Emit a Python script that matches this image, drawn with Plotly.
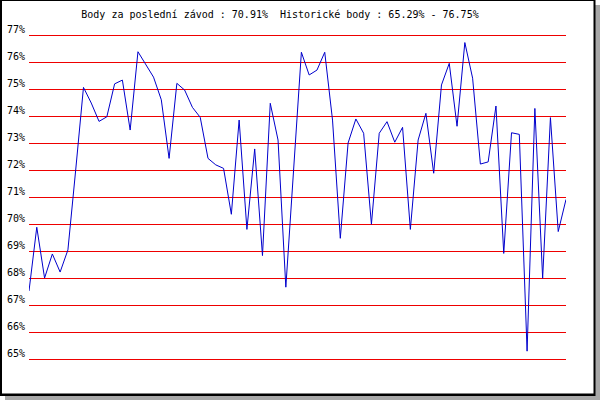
import plotly.graph_objects as go

# Data: race-by-race score in percent
scores = [
    67.52, 69.88, 68.00, 68.89, 68.22, 69.04, 72.00, 75.06, 74.48, 73.80,
    73.97, 75.19, 75.33, 73.48, 76.38, 75.89, 75.44, 74.60, 72.43, 75.21,
    74.96, 74.32, 73.95, 72.43, 72.19, 72.06, 70.36, 73.85, 69.80, 72.78,
    68.83, 74.47, 73.11, 67.66, 72.00, 76.36, 75.52, 75.70, 76.36, 73.85,
    69.47, 73.00, 73.89, 73.36, 69.99, 73.36, 73.79, 73.03, 73.58, 69.80,
    73.11, 74.10, 71.88, 75.15, 75.95, 73.62, 76.72, 75.40, 72.22, 72.30,
    74.37, 68.91, 73.38, 73.32, 65.29, 74.28, 67.99, 73.94, 69.72, 70.91,
]
races = list(range(len(scores)))
y_ticks = list(range(65, 78))
y_labels = [f"{v}%" for v in y_ticks]
title_text = "Body za poslední závod : 70.91%  Historické body : 65.29% - 76.75%"

W, H = 600, 400
PADPX = 5
L, R, T, B = 29, 34, 35 - PADPX, 41 - PADPX
pw, ph = W - L - R, H - T - B
pad_units = PADPX / 27.0


def px(x):
    return (x - L) / pw


def py(y):
    return (H - B - y) / ph


fig = go.Figure()
fig.add_trace(go.Scatter(
    x=races, y=scores, mode="lines",
    line=dict(color="#0000cc", width=1),
    hoverinfo="skip", showlegend=False,
))

shapes = [
    # shadow
    dict(type="rect", xref="paper", yref="paper", layer="below",
         x0=px(5), x1=px(600), y0=py(400), y1=py(5),
         fillcolor="#a8a8a8", line=dict(width=0)),
    # black frame
    dict(type="rect", xref="paper", yref="paper", layer="below",
         x0=px(0), x1=px(595.5), y0=py(396), y1=py(0),
         fillcolor="black", line=dict(width=0)),
    # white inside
    dict(type="rect", xref="paper", yref="paper", layer="below",
         x0=px(2), x1=px(593.5), y0=py(393.5), y1=py(1),
         fillcolor="white", line=dict(width=0)),
]

fig.update_layout(
    width=W, height=H,
    margin=dict(l=L, r=R, t=T, b=B, pad=0, autoexpand=False),
    paper_bgcolor="white",
    plot_bgcolor="rgba(0,0,0,0)",
    shapes=shapes,
    title=dict(text=title_text, x=280 / W, xanchor="center", xref="container",
               y=1 - 14 / H, yanchor="middle", yref="container",
               font=dict(family="DejaVu Sans Mono", size=10, color="black")),
    xaxis=dict(range=[0, len(scores) - 1], showgrid=False, zeroline=False,
               showline=False, showticklabels=False, ticks="", fixedrange=True,
               automargin=False),
    yaxis=dict(range=[65 - pad_units, 77 + pad_units], tickmode="array",
               tickvals=y_ticks, ticktext=y_labels, automargin=False,
               showgrid=True, gridcolor="#ee0000", gridwidth=1,
               zeroline=False, showline=False, ticks="",
               ticklabelstandoff=3, ticklabelshift=-6,
               tickfont=dict(family="DejaVu Sans Mono", size=10, color="black")),
    font=dict(family="DejaVu Sans Mono", size=10, color="black"),
)

fig.write_html("out.html", config={"displayModeBar": False},
               post_script="document.body.style.margin='0';document.body.style.overflow='hidden';")
